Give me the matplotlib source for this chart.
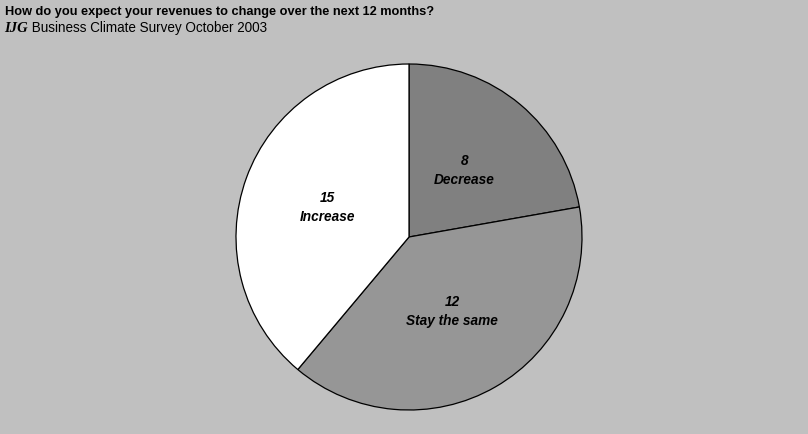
import matplotlib.pyplot as plt

categories = ['Decrease', 'Stay the same', 'Increase']
label_values = [8, 12, 15]
# slice sizes as drawn in the picture (the drawn angles do not follow the printed numbers)
slice_values = [8, 14, 14]
colors = ['#808080', '#969696', '#ffffff']

title = 'How do you expect your revenues to change over the next 12 months?'
source_tag = 'IJG'
source_text = ' Business Climate Survey October 2003'

plt.rcParams['font.family'] = ['Liberation Sans', 'DejaVu Sans']

fig = plt.figure(figsize=(8.08, 4.34), dpi=100)
fig.patch.set_facecolor('#c0c0c0')

# pie axes: centre ~ (409, 237) px, radius ~ 173 px
ax = fig.add_axes([(409 - 173) / 808, 1 - (237 + 173) / 434, 346 / 808, 346 / 434])
ax.set_facecolor('none')

labels = [f'{v}\n{c}' for v, c in zip(label_values, categories)]
wedges, texts = ax.pie(slice_values, colors=colors, startangle=90, counterclock=False,
                       labels=labels, labeldistance=0.5,
                       wedgeprops=dict(edgecolor='black', linewidth=0.9),
                       textprops=dict(fontsize=9.8, fontweight='bold', fontstyle='italic',
                                      ha='center', va='center', linespacing=1.45))
for t in texts:
    t.set_horizontalalignment('center')
ax.set_xlim(-1, 1)
ax.set_ylim(-1, 1)
ax.set_aspect('equal')

fig.text(5 / 808, 1 - 12 / 434, title, fontsize=9.2, fontweight='bold', va='center', ha='left')
t1 = fig.text(4 / 808, 1 - 28 / 434, source_tag, fontsize=10.5, fontweight='bold',
              fontstyle='italic', family=['Liberation Serif', 'DejaVu Serif'],
              va='center', ha='left')
fig.canvas.draw()
bb = t1.get_window_extent()
fig.text(bb.x1 / 808, 1 - 28 / 434, source_text, fontsize=9.75, va='center', ha='left')

fig.savefig('out.png', dpi=100, facecolor=fig.get_facecolor())
